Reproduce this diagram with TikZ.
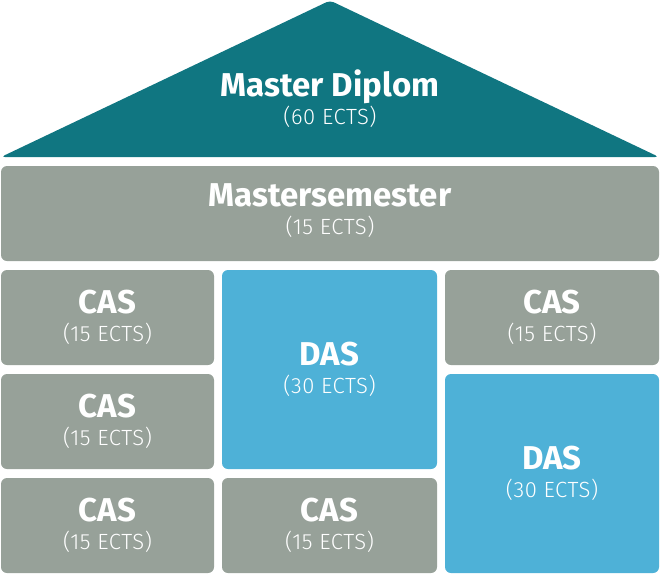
\documentclass[tikz,border=0pt]{standalone}
\usepackage{fontspec}
\setmainfont{Fira Sans}
\newfontfamily\lightfont[LetterSpace=2.5]{Fira Sans Light}
\definecolor{teal}{HTML}{107681}
\definecolor{grayc}{HTML}{97A199}
\definecolor{bluec}{HTML}{4EB1D7}
\newcommand{\ttl}[1]{{\fontsize{33}{28}\selectfont\bfseries #1}}
\newcommand{\sub}[1]{{\lightfont\fontsize{22}{28}\selectfont #1}}
\begin{document}
\begin{tikzpicture}[x=1pt,y=-1pt,
  box/.style={rounded corners=6pt, text=white, align=center, inner sep=0pt,
    font=\fontsize{20}{28}\selectfont},
  graybox/.style={box, fill=grayc},
  bluebox/.style={box, fill=bluec}]
\useasboundingbox (0,0) rectangle (660,574);
% roof
\fill[teal, rounded corners=4pt] (1,157) -- (330,0.5) -- (659,157) -- cycle;
\node[text=white, align=center, font=\fontsize{20}{28}\selectfont] (roof) at (330,99) {\ttl{Master Diplom}\\\sub{(60 ECTS)}};
% mastersemester
\path[graybox] (1,166) rectangle (659,261);
\node[text=white, align=center, font=\fontsize{20}{28}\selectfont] (ms) at (330,211) {\ttl{Mastersemester}\\\sub{(15 ECTS)}};
% left column
\node[graybox, minimum width=213pt, minimum height=95pt] (c1) at (107.5,317.5) {\ttl{CAS}\\\sub{(15 ECTS)}};
\node[graybox, minimum width=213pt, minimum height=95pt] (c2) at (107.5,421.5) {\ttl{CAS}\\\sub{(15 ECTS)}};
\node[graybox, minimum width=213pt, minimum height=95pt] (c3) at (107.5,525.5) {\ttl{CAS}\\\sub{(15 ECTS)}};
% middle column
\node[bluebox, minimum width=215pt, minimum height=199pt] (d1) at (329.5,369.5) {\ttl{DAS}\\\sub{(30 ECTS)}};
\node[graybox, minimum width=215pt, minimum height=95pt] (c4) at (329.5,525.5) {\ttl{CAS}\\\sub{(15 ECTS)}};
% right column
\node[graybox, minimum width=214pt, minimum height=95pt] (c5) at (552,317.5) {\ttl{CAS}\\\sub{(15 ECTS)}};
\node[bluebox, minimum width=214pt, minimum height=199pt] (d2) at (552,473.5) {\ttl{DAS}\\\sub{(30 ECTS)}};
\end{tikzpicture}
\end{document}
